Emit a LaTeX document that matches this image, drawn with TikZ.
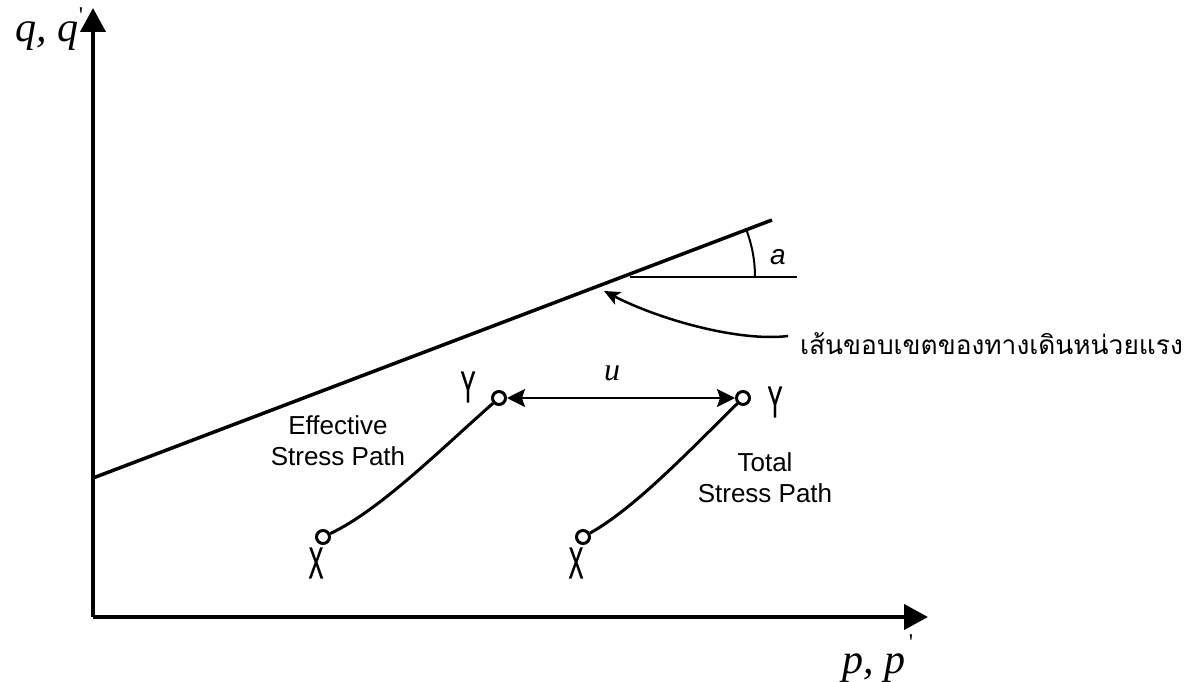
\documentclass[tikz,border=0pt]{standalone}
\usepackage{fontspec}
\setmainfont{Liberation Serif}
\newfontfamily\arial{Liberation Sans}
\newfontfamily\narrow[FakeStretch=0.5, FakeBold=0.6]{Liberation Sans}
\newfontfamily\thaifont[Script=Thai]{Loma}
\usetikzlibrary{arrows.meta}
\tikzset{
  axis/.style={line width=4pt, -{Triangle[length=24pt,width=25pt]}},
  envelope/.style={line width=3.5pt},
  spath/.style={line width=3pt},
  pt/.style={circle, draw, fill=white, line width=3pt, minimum size=13pt, inner sep=0pt},
  letter/.style={font=\narrow\fontsize{45}{45}\selectfont, inner sep=0pt},
  lbl/.style={font=\arial\fontsize{26}{31}\selectfont, align=center, inner sep=0pt},
  axlbl/.style={font=\itshape\fontsize{42}{42}\selectfont, inner sep=0pt, anchor=base west},
  primelbl/.style={font=\fontsize{24}{24}\selectfont, inner sep=0pt},
}
\begin{document}
\begin{tikzpicture}[x=1pt,y=-1pt]
\useasboundingbox (0,0) rectangle (1184,682);
% axes
\coordinate (O) at (93,617);
\coordinate (Qtip) at (93,8);
\coordinate (Ptip) at (928,617);
\draw[axis] (O) -- (Qtip);
\draw[axis] (O) -- (Ptip);
\node[axlbl] (qlab) at (15,42) {q, q};
\node[primelbl] (qprime) at (81,16) {\textquotesingle};
\node[axlbl] (plab) at (842,673) {p, p};
\node[primelbl] (pprime) at (911,643) {\textquotesingle};
% failure envelope
\coordinate (E1) at (93,478);
\coordinate (E2) at (772,220);
\draw[envelope] (E1) -- (E2);
\coordinate (C) at (622,277);
\coordinate (H1) at (630,277);
\coordinate (H2) at (797,277);
\draw[line width=2.5pt] (H1) -- (H2);
\draw[line width=2pt] ([shift={(0:133)}]C) arc[start angle=0, end angle=-20.8, radius=133];
\node[font=\arial\itshape\fontsize{28}{28}\selectfont, inner sep=0pt] (alab) at (778,257) {a};
% curved arrow with Thai label
\coordinate (tail) at (788,336);
\coordinate (tip) at (604,291);
\draw[line width=2.5pt, -{Stealth[length=16pt,width=14pt,inset=4pt]}] (tail) .. controls (740,342) and (660,320) .. (tip);
\node[font=\thaifont\fontsize{26.3}{26.3}\selectfont, inner sep=0pt, anchor=base west] (thai) at (800,354) {เส้นขอบเขตของทางเดินหน่วยแรง};
% stress path points
\node[pt] (Xe) at (323,537) {};
\node[pt] (Ye) at (499,398) {};
\node[pt] (Xt) at (583,537) {};
\node[pt] (Yt) at (743,398) {};
\draw[spath] (Xe) .. controls (380,510) and (440,450) .. (Ye);
\draw[spath] (Xt) .. controls (635,508) and (690,450) .. (Yt);
\draw[line width=2pt, {Stealth[length=18pt,width=18pt,inset=3pt]}-{Stealth[length=18pt,width=18pt,inset=3pt]}] (Ye) -- (Yt);
\node[font=\itshape\fontsize{32}{32}\selectfont, inner sep=0pt] (ulab) at (612,373) {u};
\node[letter] (Yel) at (468,387) {Y};
\node[letter] (Xel) at (316,563) {X};
\node[letter] (Ytl) at (775,402) {Y};
\node[letter] (Xtl) at (576,563) {X};
\node[lbl] (eff) at (338,441) {Effective\\Stress Path};
\node[lbl] (tot) at (765,478) {Total\\Stress Path};
\end{tikzpicture}
\end{document}
